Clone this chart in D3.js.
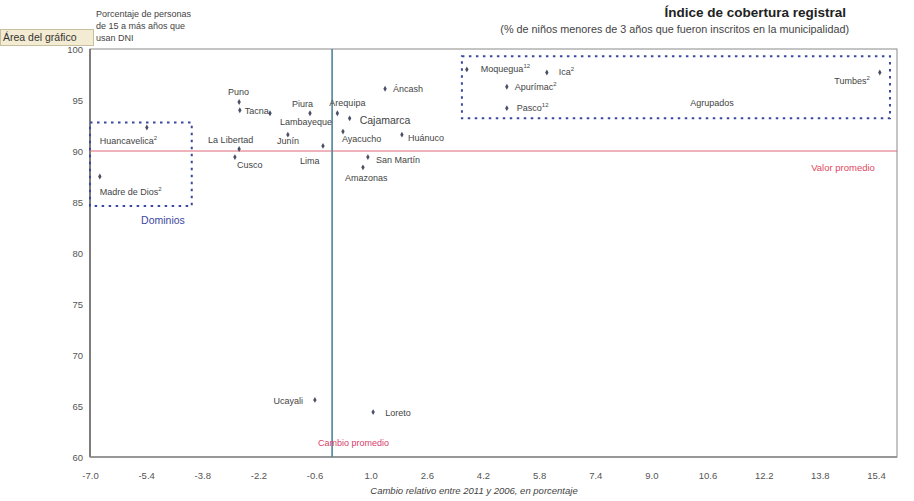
<!DOCTYPE html>
<html lang="es">
  <head>
    <meta charset="UTF-8" />
    <title>Índice de cobertura registral</title>
    <style>
      body { margin: 0; background: #fff; }
      svg { display: block; font-family: "Liberation Sans", Arial, sans-serif; }
    </style>
  </head>
  <body>
    <svg id="chart" width="914" height="501"></svg>
    <script src="https://cdn.jsdelivr.net/npm/d3@7"></script>
    <script>
      // datos
      const regiones = ["Puno", "Tacna", "Piura", "Lambayeque", "Arequipa", "Cajamarca", "Junín", "Lima",
        "La Libertad", "Cusco", "Áncash", "Ayacucho", "Huánuco", "San Martín", "Amazonas", "Ucayali", "Loreto",
        "Huancavelica", "Madre de Dios", "Moquegua", "Ica", "Apurímac", "Pasco", "Tumbes"];
      const notas = ["", "", "", "", "", "", "", "", "", "", "", "", "", "", "", "", "",
        "2", "2", "12", "2", "2", "12", "2"];
      const cambio = [-2.75, -2.73, -1.87, -0.73, 0.05, 0.4, -1.36, -0.36,
        -2.75, -2.87, 1.41, 0.21, 1.89, 0.92, 0.78, -0.59, 1.07,
        -5.38, -6.72, 3.74, 6.02, 4.88, 4.88, 15.51];
      const cobertura = [94.8, 94.0, 93.7, 93.7, 93.7, 93.2, 91.6, 90.5,
        90.2, 89.4, 96.1, 91.9, 91.6, 89.4, 88.4, 65.6, 64.4,
        92.3, 87.5, 98.0, 97.7, 96.3, 94.2, 97.7];
      const xTicks = [-7.0, -5.4, -3.8, -2.2, -0.6, 1.0, 2.6, 4.2, 5.8, 7.4, 9.0, 10.6, 12.2, 13.8, 15.4];
      const yTicks = [60, 65, 70, 75, 80, 85, 90, 95, 100];
      const promedioCobertura = 90;
      const promedioCambio = -0.1;

      // posicion de etiquetas (dx, dy, ancla)
      const etiquetas = {
        "Puno": [-11, -7, "start"], "Tacna": [5, 4, "start"], "Piura": [22, -6, "start"],
        "Lambayeque": [-30, 12, "start"], "Arequipa": [-8, -7, "start"], "Cajamarca": [10, 6, "start"],
        "Junín": [-11, 9, "start"], "Lima": [-23, 18, "start"], "La Libertad": [-31, -6, "start"],
        "Cusco": [2, 11, "start"], "Áncash": [8, 3, "start"], "Ayacucho": [-1, 10, "start"],
        "Huánuco": [6, 6, "start"], "San Martín": [8, 6, "start"], "Amazonas": [-18, 14, "start"],
        "Ucayali": [-12, 4, "end"], "Loreto": [12, 4, "start"], "Huancavelica": [-47, 16, "start"],
        "Madre de Dios": [0, 18, "start"], "Moquegua": [14, 3, "start"], "Ica": [12, 3, "start"],
        "Apurímac": [8, 3, "start"], "Pasco": [10, 3, "start"], "Tumbes": [-10, 12, "end"]
      };

      const svg = d3.select("#chart");
      const m = { left: 90, right: 897, top: 49, bottom: 457 };

      const x = d3.scaleLinear().domain([-7, 16]).range([m.left, m.right]);
      const y = d3.scaleLinear().domain([60, 100]).range([m.bottom, m.top]);

      // marco del area de trazado
      svg.append("rect")
        .attr("x", m.left).attr("y", m.top)
        .attr("width", m.right - m.left).attr("height", m.bottom - m.top)
        .attr("fill", "none").attr("stroke", "#8a8a8a").attr("stroke-width", 1);
      svg.append("line")
        .attr("x1", m.left).attr("x2", m.left).attr("y1", m.top).attr("y2", m.bottom)
        .attr("stroke", "#666").attr("stroke-width", 1.5);
      svg.append("line")
        .attr("x1", m.left).attr("x2", m.right).attr("y1", m.bottom).attr("y2", m.bottom)
        .attr("stroke", "#888").attr("stroke-width", 1.5);

      // ejes
      const yAxis = d3.axisLeft(y).tickValues(yTicks).tickSize(0).tickPadding(7).tickFormat(d => d);
      svg.append("g").attr("transform", `translate(${m.left},0)`).call(yAxis)
        .call(g => g.select(".domain").remove())
        .selectAll("text").attr("font-size", 9.5).attr("fill", "#555").attr("font-family", "Liberation Sans, Arial");

      const xAxis = d3.axisBottom(x).tickValues(xTicks).tickSize(0).tickPadding(15).tickFormat(d => d.toFixed(1));
      svg.append("g").attr("transform", `translate(0,${m.bottom})`).call(xAxis)
        .call(g => g.select(".domain").remove())
        .selectAll("text").attr("font-size", 9.5).attr("fill", "#555").attr("font-family", "Liberation Sans, Arial");

      // lineas de promedio
      svg.append("line")
        .attr("x1", m.left).attr("x2", m.right)
        .attr("y1", y(promedioCobertura)).attr("y2", y(promedioCobertura))
        .attr("stroke", "#e06a78").attr("stroke-width", 1.2);
      svg.append("line")
        .attr("x1", x(promedioCambio)).attr("x2", x(promedioCambio))
        .attr("y1", m.top).attr("y2", m.bottom)
        .attr("stroke", "#4f8597").attr("stroke-width", 1.6);
      svg.append("text").attr("x", 843).attr("y", 171).attr("text-anchor", "middle")
        .attr("font-size", 9.5).attr("fill", "#e0485e").text("Valor promedio");
      svg.append("text").attr("x", x(promedioCambio) - 14).attr("y", 446)
        .attr("font-size", 9).attr("fill", "#d8406a").text("Cambio promedio");

      // recuadros punteados
      const cajas = [[-7.0, -4.1, 84.6, 92.8], [3.6, 15.8, 93.2, 99.3]];
      svg.selectAll("rect.caja").data(cajas).join("rect").attr("class", "caja")
        .attr("x", d => x(d[0])).attr("y", d => y(d[3]))
        .attr("width", d => x(d[1]) - x(d[0])).attr("height", d => y(d[2]) - y(d[3]))
        .attr("fill", "none").attr("stroke", "#3b48a0").attr("stroke-width", 2)
        .attr("stroke-dasharray", "2.5,4.5");
      svg.append("text").attr("x", 163).attr("y", 224).attr("text-anchor", "middle")
        .attr("font-size", 10.5).attr("fill", "#3b48a0").text("Dominios");
      svg.append("text").attr("x", 712).attr("y", 106).attr("text-anchor", "middle")
        .attr("font-size", 9).attr("fill", "#444").text("Agrupados");

      // puntos
      const pts = regiones.map((r, i) => ({ r, nota: notas[i], cx: cambio[i], cy: cobertura[i] }));
      svg.selectAll("path.pt").data(pts).join("path").attr("class", "pt")
        .attr("transform", d => `translate(${x(d.cx)},${y(d.cy)})`)
        .attr("d", d3.symbol(d3.symbolDiamond, 10))
        .attr("fill", "#4a4f66");

      const lbl = svg.selectAll("text.lbl").data(pts).join("text").attr("class", "lbl")
        .attr("x", d => x(d.cx) + etiquetas[d.r][0])
        .attr("y", d => y(d.cy) + etiquetas[d.r][1])
        .attr("text-anchor", d => etiquetas[d.r][2])
        .attr("font-size", d => d.r === "Cajamarca" ? 10.5 : 9)
        .attr("fill", "#444");
      lbl.append("tspan").text(d => d.r);
      lbl.filter(d => d.nota).append("tspan")
        .attr("dy", -4).attr("font-size", 6).text(d => d.nota);

      // titulos
      svg.append("text").attr("x", 846).attr("y", 17).attr("text-anchor", "end")
        .attr("font-size", 13.5).attr("font-weight", "bold").attr("fill", "#222")
        .text("Índice de cobertura registral");
      svg.append("text").attr("x", 849).attr("y", 33).attr("text-anchor", "end")
        .attr("font-size", 10.8).attr("fill", "#444")
        .text("(% de niños menores de 3 años que fueron inscritos en la municipalidad)");
      svg.append("text").attr("x", 474).attr("y", 494).attr("text-anchor", "middle")
        .attr("font-size", 9.5).attr("font-style", "italic").attr("fill", "#444")
        .text("Cambio relativo entre 2011 y 2006, en porcentaje");

      const nota = ["Porcentaje de personas", "de 15 a más años que", "usan DNI"];
      svg.selectAll("text.nota").data(nota).join("text").attr("class", "nota")
        .attr("x", 96).attr("y", (d, i) => 17 + i * 12)
        .attr("font-size", 9).attr("fill", "#444").text(d => d);

      // tooltip de excel
      svg.append("rect").attr("x", 0.5).attr("y", 29.5).attr("width", 93).attr("height", 16)
        .attr("fill", "#f3ecd2").attr("stroke", "#c8bf9e");
      svg.append("text").attr("x", 3).attr("y", 41).attr("font-size", 10.5).attr("fill", "#333")
        .text("Área del gráfico");
    </script>
  </body>
</html>
